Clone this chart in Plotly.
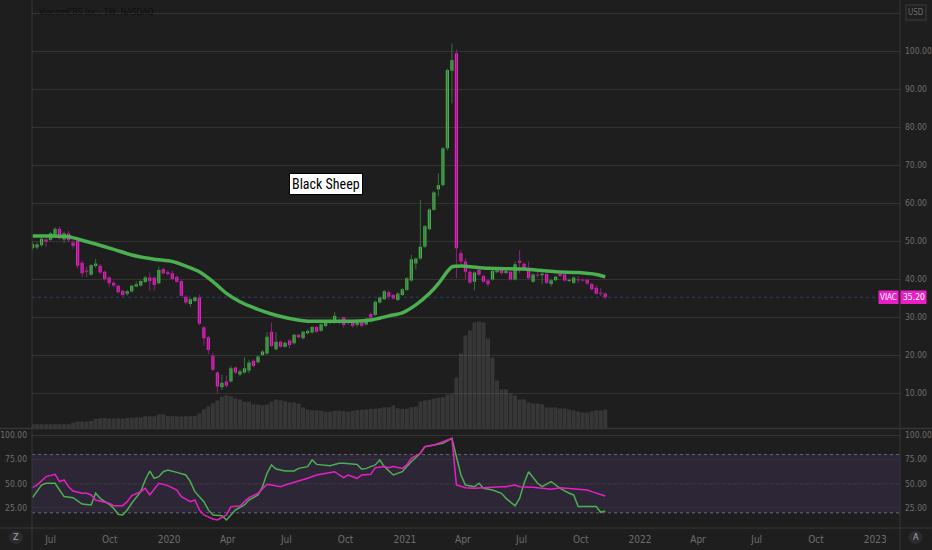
import pandas as pd
import plotly.graph_objects as go

# ---------------- data (weekly, ViacomCBS / VIAC) ----------------
start_date = "2019-06-03"

opens = [48.1, 48.3, 48.9, 50.4, 50.3, 51.1, 53.2, 50.4, 52.0, 49.6,
         50.1, 44.3, 42.2, 41.1, 43.4, 43.5, 41.9, 40.4, 39.0, 38.2,
         36.9, 36.1, 36.7, 38.0, 38.3, 39.2, 40.4, 40.3, 38.9, 42.6,
         41.8, 41.5, 40.6, 39.5, 35.3, 33.4, 34.2, 35.1, 27.3, 24.7,
         19.8, 15.4, 11.5, 13.0, 13.0, 16.7, 14.9, 15.4, 15.9, 18.5,
         18.1, 20.0, 20.4, 26.1, 21.5, 23.5, 22.2, 23.8, 23.1, 25.3,
         24.4, 25.7, 25.9, 27.4, 26.4, 27.6, 28.4, 28.5, 29.2, 29.9,
         28.4, 28.8, 27.9, 28.8, 28.0, 30.8, 30.5, 33.8, 34.7, 36.5,
         35.8, 34.5, 35.8, 37.1, 39.6, 44.1, 45.4, 48.5, 53.1, 58.2,
         63.6, 64.7, 74.4, 94.8, 99.4, 46.8, 44.6, 41.9, 39.3, 42.4,
         40.8, 39.6, 39.9, 41.8, 43.0, 41.6, 41.9, 39.9, 44.8, 44.0,
         42.4, 39.3, 41.1, 41.0, 41.3, 38.7, 39.7, 41.4, 41.2, 39.5,
         39.0, 39.9, 39.8, 39.8, 38.7, 37.7, 36.4, 36.2]

highs = [50.0, 49.6, 51.0, 50.8, 52.4, 53.6, 53.8, 52.5, 52.6, 50.2,
         50.4, 44.8, 43.2, 43.9, 45.3, 43.9, 42.2, 40.7, 39.4, 38.5,
         37.2, 37.2, 38.5, 39.4, 39.8, 40.8, 41.7, 40.6, 43.3, 42.9,
         42.3, 42.2, 40.9, 39.8, 35.8, 35.0, 35.4, 35.9, 27.6, 25.0,
         20.6, 15.7, 14.8, 14.6, 17.1, 17.0, 16.2, 19.4, 18.8, 18.8,
         19.9, 21.3, 26.0, 28.5, 26.0, 23.8, 23.5, 24.1, 25.6, 25.6,
         26.4, 26.8, 27.7, 27.7, 28.4, 29.1, 29.4, 31.3, 29.6, 30.2,
         29.3, 29.1, 29.0, 29.1, 29.8, 31.2, 34.3, 35.4, 37.1, 37.0,
         36.1, 36.5, 37.6, 40.5, 46.4, 45.7, 60.8, 54.2, 58.6, 63.2,
         67.8, 74.8, 95.4, 102.0, 100.4, 47.6, 45.5, 42.3, 42.0, 42.7,
         41.1, 39.9, 42.4, 43.2, 43.3, 42.5, 42.2, 44.6, 47.6, 44.3,
         44.6, 41.5, 42.4, 41.7, 41.6, 40.0, 40.9, 41.7, 41.5, 40.1,
         40.7, 40.8, 40.2, 40.1, 39.0, 38.3, 37.6, 36.5]

lows = [47.6, 47.8, 48.5, 48.5, 50.0, 50.8, 50.4, 49.4, 49.6, 48.0,
        42.8, 40.6, 40.6, 40.9, 42.9, 41.4, 39.6, 37.9, 37.8, 36.2,
        35.3, 35.6, 36.4, 37.8, 38.0, 38.9, 36.9, 36.9, 38.6, 41.2,
        40.9, 39.8, 39.0, 35.3, 33.3, 32.6, 33.9, 27.9, 22.5, 20.2,
        15.8, 10.0, 10.8, 11.4, 12.8, 15.0, 14.4, 15.1, 15.2, 16.8,
        17.8, 19.7, 20.1, 22.1, 21.2, 21.9, 21.9, 21.7, 22.8, 24.4,
        24.1, 25.4, 25.6, 25.8, 26.1, 27.3, 28.1, 28.2, 28.2, 27.2,
        28.0, 27.2, 27.4, 27.3, 27.8, 28.5, 30.2, 33.5, 34.4, 34.6,
        34.6, 34.2, 35.5, 36.8, 39.3, 42.5, 45.1, 48.2, 52.8, 57.9,
        61.7, 64.4, 73.8, 86.2, 40.2, 44.0, 40.0, 38.7, 37.0, 40.8,
        39.0, 38.0, 39.6, 41.5, 41.2, 41.3, 39.6, 39.6, 41.5, 42.1,
        39.9, 39.0, 40.4, 38.6, 38.7, 38.0, 39.4, 40.5, 39.3, 39.2,
        38.7, 39.0, 39.3, 38.5, 37.0, 35.9, 35.5, 34.7]

closes = [49.2, 49.1, 50.6, 49.8, 52.0, 53.2, 50.7, 52.0, 50.2, 48.7,
          43.5, 41.5, 41.9, 43.7, 44.1, 41.7, 40.0, 38.9, 38.3, 36.5,
          35.8, 36.8, 38.2, 38.6, 39.5, 40.4, 39.5, 38.4, 42.4, 41.5,
          41.3, 40.0, 39.3, 35.6, 33.8, 34.7, 35.1, 28.2, 24.4, 21.3,
          16.1, 11.7, 12.7, 11.9, 16.5, 15.4, 15.7, 16.5, 18.0, 17.1,
          19.6, 20.9, 24.8, 22.4, 23.5, 22.2, 23.2, 22.6, 25.3, 24.7,
          26.1, 26.3, 27.4, 26.1, 28.1, 28.8, 29.0, 30.3, 28.5, 27.9,
          28.8, 27.6, 28.8, 27.7, 28.9, 29.9, 34.0, 35.1, 36.8, 35.3,
          34.9, 36.2, 37.3, 40.2, 45.2, 45.4, 48.5, 53.9, 58.3, 62.8,
          64.7, 74.4, 95.0, 97.6, 48.1, 44.6, 41.9, 39.0, 41.7, 41.1,
          39.3, 38.6, 42.1, 42.3, 41.5, 42.1, 39.9, 43.9, 44.3, 42.4,
          40.2, 41.2, 40.9, 41.4, 39.0, 39.7, 40.6, 40.8, 39.6, 39.8,
          40.4, 39.7, 39.6, 38.8, 37.3, 36.1, 36.1, 35.2]

# weekly volume (millions)
volumes = [17, 17, 17, 17, 17, 17, 17, 17, 17, 23,
           28, 28, 28, 30, 38, 40, 42, 40, 40, 41,
           40, 42, 43, 44, 44, 49, 49, 49, 56, 56,
           50, 49, 49, 48, 49, 49, 50, 60, 77, 89,
           100, 112, 127, 133, 129, 120, 116, 107, 107, 97,
           96, 93, 96, 107, 116, 113, 108, 104, 104, 100,
           84, 76, 73, 73, 71, 67, 67, 71, 71, 69,
           67, 71, 74, 75, 76, 79, 79, 81, 85, 85,
           92, 81, 79, 79, 85, 88, 108, 112, 115, 119,
           123, 125, 136, 139, 204, 300, 372, 392, 424, 428,
           424, 360, 284, 192, 156, 156, 140, 132, 116, 116,
           104, 100, 100, 96, 84, 84, 84, 80, 80, 76,
           72, 68, 64, 64, 68, 72, 72, 76]

# moving average line (week index, value)
ma_week = [0, 4, 8, 11, 14, 18, 22, 27, 31, 34, 37, 40, 43, 46, 50, 53, 57, 61, 66, 71,
           75, 79, 82, 85, 88, 90, 92, 93, 95, 101, 109, 116, 121, 125, 127]
ma_val = [51.3, 51.3, 51.1, 50.2, 49.2, 47.8, 46.3, 45.2, 44.6, 43.4, 41.9, 39.3, 36.2, 34.0,
          32.0, 30.8, 29.6, 28.9, 28.9, 28.9, 29.2, 30.3, 31.1, 33.2, 36.2, 38.8, 42.0, 43.2,
          43.4, 42.8, 42.6, 41.9, 41.7, 41.2, 40.6]

# RSI (green) and its average (magenta): week index, value
rsi_week = [0, 1, 2, 3, 5, 6, 7, 9, 10, 11, 13, 14, 15, 17, 18, 19, 20, 21, 22, 24,
            25, 26, 27, 28, 29, 30, 32, 34, 35, 36, 38, 39, 40, 42, 43, 44, 45, 47, 48, 50,
            51, 52, 53, 54, 56, 58, 59, 61, 62, 63, 64, 66, 68, 69, 72, 73, 74, 76, 77, 78,
            80, 82, 83, 84, 86, 87, 89, 91, 93, 94, 95, 96, 98, 99, 100, 102, 104, 105, 107, 108,
            109, 110, 112, 113, 115, 116, 117, 119, 120, 121, 123, 125, 126, 127]
rsi_val = [35.6, 41.8, 48.6, 50.4, 50.4, 43.5, 36.7, 35.6, 32.2, 29.1, 28.1, 40.1, 34.9, 28.8,
           24.6, 18.5, 17.8, 23.0, 29.8, 41.8, 53.8, 63.0, 55.5, 57.2, 62.3, 64.0, 61.6, 58.9,
           52.1, 41.8, 31.5, 23.0, 17.8, 17.1, 12.7, 17.8, 23.0, 28.1, 33.2, 38.3, 46.9, 60.6,
           69.2, 65.1, 63.1, 63.1, 65.7, 67.5, 74.3, 69.8, 69.2, 68.5, 70.9, 70.9, 69.8, 64.8,
           65.7, 69.2, 74.3, 67.5, 58.9, 62.3, 67.5, 72.6, 81.2, 88.0, 89.7, 91.4, 96.6, 76.0,
           58.9, 48.6, 46.9, 50.4, 45.2, 43.5, 40.1, 34.9, 27.1, 34.9, 50.4, 62.3, 50.4, 46.9,
           52.1, 48.6, 45.2, 40.1, 38.4, 26.4, 26.4, 26.4, 20.6, 22.0]

rma_week = [0, 1, 2, 3, 5, 6, 7, 8, 9, 11, 12, 13, 14, 16, 17, 18, 20, 21, 22, 24,
            25, 26, 28, 30, 32, 33, 35, 36, 37, 38, 40, 41, 43, 44, 46, 47, 48, 50, 51, 52,
            53, 55, 56, 58, 59, 61, 63, 65, 67, 68, 69, 70, 72, 73, 75, 76, 78, 79, 80, 82,
            83, 84, 86, 87, 89, 91, 93, 94, 95, 96, 98, 100, 102, 104, 105, 107, 108, 109, 111, 113,
            115, 117, 119, 120, 123, 124, 125, 127]
rma_val = [45.9, 48.6, 52.8, 57.2, 59.6, 52.1, 53.8, 46.9, 42.5, 40.1, 40.1, 38.4, 33.2, 30.8,
           29.8, 27.4, 27.4, 31.5, 37.7, 41.8, 45.2, 38.4, 50.4, 48.0, 43.5, 36.7, 31.5, 33.2,
           23.0, 17.8, 13.7, 12.7, 17.8, 26.4, 27.1, 31.5, 35.6, 40.1, 45.2, 49.3, 48.6, 46.9,
           48.6, 51.4, 52.1, 55.5, 58.9, 60.6, 62.3, 58.9, 56.2, 58.9, 55.5, 58.9, 59.6, 66.4,
           67.5, 66.4, 67.5, 65.7, 69.2, 76.0, 81.2, 88.0, 89.7, 93.1, 96.6, 48.6, 46.9, 45.9,
           45.2, 45.9, 46.9, 46.9, 46.9, 48.6, 46.9, 46.9, 46.2, 45.2, 44.2, 45.9, 45.2, 45.2,
           43.5, 41.8, 40.1, 37.3]

price_ticks = [10, 20, 30, 40, 50, 60, 70, 80, 90, 100, 110]
rsi_ticks = [25, 50, 75, 100]
time_tick_dates = ["2019-07-01", "2019-10-01", "2020-01-01", "2020-04-01", "2020-07-01",
                   "2020-10-01", "2021-01-01", "2021-04-01", "2021-07-01", "2021-10-01",
                   "2022-01-01", "2022-04-01", "2022-07-01", "2022-10-01", "2023-01-01"]
time_tick_labels = ["Jul", "Oct", "2020", "Apr", "Jul", "Oct", "2021", "Apr", "Jul", "Oct",
                    "2022", "Apr", "Jul", "Oct", "2023"]

title_text = "ViacomCBS Inc., 1W, NASDAQ"
symbol = "VIAC"
note_text = "Black Sheep"

# ---------------- styling ----------------
BG = "#1e1e1e"
GRID = "#333333"
UP = "#4caf50"
DN = "#e91ec4"
UP_WICK = "#2f7433"
DN_WICK = "#8a2377"
AXIS_TXT = "#6e6e6e"
SEP = "#363636"
NARROW = "Liberation Sans Narrow, Arial Narrow, DejaVu Sans Condensed, Roboto, sans-serif"
WEEK_MS = 7 * 24 * 3600 * 1000

W, H = 932, 550
L, R, T, B = 32, 32, 0, 23
PW, PH = W - L - R, H - T - B


def px_x(px):
    return (px - L) / PW


def px_y(py):
    return (H - B - py) / PH


dates = pd.date_range(start=start_date, periods=len(opens), freq="W-MON")

fig = go.Figure()

# volume (overlay on price pane)
fig.add_trace(go.Bar(x=dates, y=volumes, width=WEEK_MS * 0.88,
                     marker=dict(color="rgba(125,125,125,0.27)", line_width=0),
                     yaxis="y4", hoverinfo="skip", showlegend=False))

# wicks
for is_up, col in ((True, UP_WICK), (False, DN_WICK)):
    wx, wy = [], []
    for d, o, h, l, c in zip(dates, opens, highs, lows, closes):
        if (c >= o) == is_up:
            wx += [d, d, None]
            wy += [l, h, None]
    fig.add_trace(go.Scatter(x=wx, y=wy, mode="lines", line=dict(color=col, width=1),
                             hoverinfo="skip", showlegend=False, yaxis="y"))

# candle bodies (open -> close)
body_base = [min(o, c) for o, c in zip(opens, closes)]
body_len = [max(abs(c - o), 0.2) for o, c in zip(opens, closes)]
body_col = [UP if c >= o else DN for o, c in zip(opens, closes)]
fig.add_trace(go.Bar(x=dates, y=body_len, base=body_base, width=WEEK_MS * 0.72,
                     marker=dict(color=body_col, line_width=0),
                     yaxis="y", hoverinfo="skip", showlegend=False))

# moving average
fig.add_trace(go.Scatter(x=[dates[i] for i in ma_week], y=ma_val, mode="lines",
                         line=dict(color=UP, width=3.5, shape="spline", smoothing=0.7),
                         showlegend=False, yaxis="y", hoverinfo="skip"))

# RSI pane
fig.add_trace(go.Scatter(x=[dates[i] for i in rsi_week], y=rsi_val, mode="lines",
                         line=dict(color=UP, width=1.5), showlegend=False, yaxis="y2"))
fig.add_trace(go.Scatter(x=[dates[i] for i in rma_week], y=rma_val, mode="lines",
                         line=dict(color=DN, width=1.5), showlegend=False, yaxis="y2"))
# invisible trace to show left RSI axis
fig.add_trace(go.Scatter(x=[dates[0]], y=[50], mode="markers", marker=dict(opacity=0),
                         showlegend=False, yaxis="y3", hoverinfo="skip"))

price_dom = [px_y(428.5), 1.0]
rsi_dom = [0.0, px_y(430)]
price_range = [(431 - 428.5) / 3.8, (431 - 0) / 3.8]
rsi_range = [(532.3 - 527) / 0.973, (532.3 - 430) / 0.973]

tickfont = dict(family=NARROW, size=8.5, color=AXIS_TXT)

fig.update_layout(
    width=W, height=H, autosize=False,
    margin=dict(l=L, r=R, t=T, b=B, pad=0, autoexpand=False),
    paper_bgcolor=BG, plot_bgcolor=BG,
    showlegend=False, hovermode=False,
    barmode="overlay",
    xaxis=dict(type="date", range=["2019-06-02 05:00", "2023-02-08 12:00"],
               anchor="y2", tickvals=time_tick_dates, ticktext=time_tick_labels,
               tickfont=dict(family=NARROW, size=10, color=AXIS_TXT),
               showgrid=False, zeroline=False, showline=False, ticks="",
               ticklabelstandoff=5, fixedrange=True, automargin=False),
    yaxis=dict(domain=price_dom, range=price_range, side="right", anchor="x",
               tickvals=price_ticks,
               ticktext=["%.2f" % v if v <= 100 else "" for v in price_ticks],
               tickfont=tickfont, gridcolor=GRID, gridwidth=1, zeroline=False,
               showline=False, ticks="", ticklabelstandoff=4, automargin=False),
    yaxis2=dict(domain=rsi_dom, range=rsi_range, side="right", anchor="x",
                tickvals=rsi_ticks, ticktext=["%.2f" % v for v in rsi_ticks],
                tickfont=tickfont, gridcolor=GRID, zeroline=False, showline=False,
                ticks="", ticklabelstandoff=4, automargin=False),
    yaxis3=dict(overlaying="y2", range=rsi_range, side="left", anchor="x",
                tickvals=rsi_ticks, ticktext=["%.2f" % v for v in rsi_ticks],
                tickfont=tickfont, showgrid=False, zeroline=False, showline=False,
                ticks="", ticklabelstandoff=4, automargin=False),
    yaxis4=dict(overlaying="y", range=[0, max(volumes) * 4.0], visible=False,
                automargin=False),
)

shapes = []
# RSI band 20-80
shapes.append(dict(type="rect", xref="paper", yref="y2", x0=0, x1=1, y0=20, y1=80,
                   fillcolor="#2c2637", line_width=0, layer="below"))
for lvl in (80, 50, 20):
    shapes.append(dict(type="line", xref="paper", yref="y2", x0=0, x1=1, y0=lvl, y1=lvl,
                       line=dict(color="#6d6679", width=1, dash="dot"), layer="below"))
# last price dotted line
shapes.append(dict(type="line", xref="paper", yref="y", x0=0, x1=1, y0=closes[-1], y1=closes[-1],
                   line=dict(color="#2b3f6e", width=1, dash="dot"), layer="below"))
# pane separators and borders
shapes.append(dict(type="line", xref="paper", yref="paper", x0=px_x(0), x1=px_x(W),
                   y0=px_y(428.5), y1=px_y(428.5), line=dict(color=SEP, width=1.5)))
shapes.append(dict(type="line", xref="paper", yref="paper", x0=px_x(0), x1=px_x(W),
                   y0=px_y(528), y1=px_y(528), line=dict(color=SEP, width=1)))
shapes.append(dict(type="line", xref="paper", yref="paper", x0=0, x1=0,
                   y0=px_y(H), y1=1, line=dict(color=SEP, width=1)))
shapes.append(dict(type="line", xref="paper", yref="paper", x0=1, x1=1,
                   y0=px_y(H), y1=1, line=dict(color=SEP, width=1)))
# Z / A buttons
for cx in (16, 915.5):
    shapes.append(dict(type="circle", xref="paper", yref="paper",
                       x0=px_x(cx - 6.5), x1=px_x(cx + 6.5), y0=px_y(543.5), y1=px_y(531),
                       fillcolor="#2c2c30", line=dict(color="#2c2c30", width=1)))
# USD box
shapes.append(dict(type="rect", xref="paper", yref="paper",
                   x0=px_x(906), x1=px_x(926), y0=px_y(20), y1=px_y(5),
                   line=dict(color="#3c3c3c", width=1), fillcolor=BG))
# last-price label boxes (symbol + value)
lp_y0, lp_y1 = closes[-1] - 1.75, closes[-1] + 1.75
shapes.append(dict(type="rect", xref="paper", yref="y", x0=px_x(878.5), x1=px_x(898.5),
                   y0=lp_y0, y1=lp_y1, fillcolor=DN, line_width=0))
shapes.append(dict(type="rect", xref="paper", yref="y", x0=px_x(900.5), x1=px_x(926.5),
                   y0=lp_y0, y1=lp_y1, fillcolor=DN, line_width=0))
fig.update_layout(shapes=shapes)

ann = []
ann.append(dict(text=title_text, xref="paper", yref="paper", x=px_x(37), y=px_y(12),
                xanchor="left", yanchor="middle", showarrow=False,
                font=dict(family=NARROW, size=8.5, color="#0e0e0e")))
ann.append(dict(text=note_text, xref="x", yref="y", x=dates[65], y=65.0,
                xanchor="center", yanchor="middle", showarrow=False,
                font=dict(family="Roboto Condensed, " + NARROW, size=14, color="#000000"),
                bgcolor="#ffffff", bordercolor="#000000", borderwidth=1, borderpad=2))
ann.append(dict(text=symbol, xref="paper", yref="y", x=px_x(888.5), y=closes[-1],
                xanchor="center", yanchor="middle", showarrow=False,
                font=dict(family=NARROW, size=8, color="#ffffff")))
ann.append(dict(text="%.2f" % closes[-1], xref="paper", yref="y", x=px_x(913.5), y=closes[-1],
                xanchor="center", yanchor="middle", showarrow=False,
                font=dict(family=NARROW, size=8.5, color="#ffffff")))
ann.append(dict(text="USD", xref="paper", yref="paper", x=px_x(916), y=px_y(12.5),
                xanchor="center", yanchor="middle", showarrow=False,
                font=dict(family=NARROW, size=8, color=AXIS_TXT)))
for cx, t in ((16, "Z"), (915.5, "A")):
    ann.append(dict(text=t, xref="paper", yref="paper", x=px_x(cx), y=px_y(537.3),
                    xanchor="center", yanchor="middle", showarrow=False,
                    font=dict(family=NARROW, size=9, color="#a8a8a8")))
fig.update_layout(annotations=ann)

fig.write_html("out.html", config={"displayModeBar": False, "staticPlot": True},
               post_script="document.body.style.margin='0';document.body.style.overflow='hidden';")
